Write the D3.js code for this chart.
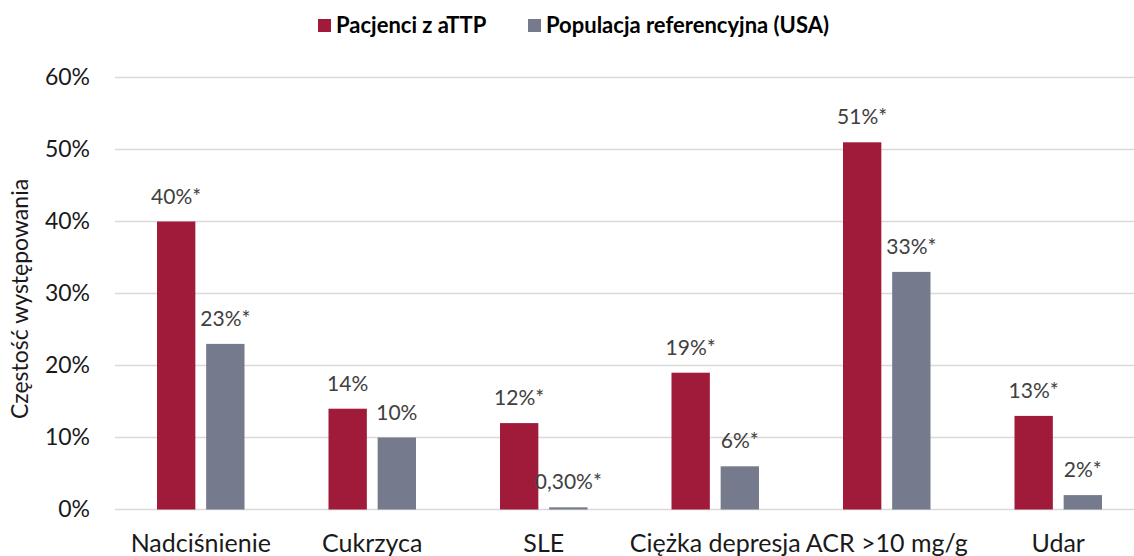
<!DOCTYPE html>
<html lang="pl">
<head>
  <meta charset="UTF-8">
  <title>Częstość występowania</title>
  <script src="https://d3js.org/d3.v7.min.js"></script>
  <style>
    body { margin: 0; background: #fff; }
    svg { display: block; font-family: Lato, "Open Sans", sans-serif; }
  </style>
</head>
<body>
  <div id="chart"></div>
  <script>
    // data
    const categories = ['Nadciśnienie', 'Cukrzyca', 'SLE', 'Ciężka depresja', 'ACR >10 mg/g', 'Udar']
    const seriesNames = ['Pacjenci z aTTP', 'Populacja referencyjna (USA)']
    const attp = [40, 14, 12, 19, 51, 13]
    const reference = [23, 10, 0.3, 6, 33, 2]
    const attpLabels = ['40%*', '14%', '12%*', '19%*', '51%*', '13%*']
    const referenceLabels = ['23%*', '10%', '0,30%*', '6%*', '33%*', '2%*']
    const yTicks = [0, 10, 20, 30, 40, 50, 60]

    const colors = ['#A01B39', '#757A8C']
    const width = 1134
    const height = 556
    const margin = { top: 77.5, left: 115, bottom: 509.5, right: 1144 }

    const svg = d3.select('#chart').append('svg')
      .attr('width', width)
      .attr('height', height)

    const x0 = d3.scaleBand()
      .domain(categories)
      .range([margin.left, margin.right])
      .padding(0)

    const x1 = d3.scaleBand()
      .domain([0, 1])
      .range([42, x0.bandwidth() - 42])
      .paddingInner(0.22)

    const y = d3.scaleLinear()
      .domain([0, 60])
      .range([margin.bottom, margin.top])

    // grid
    svg.append('g')
      .selectAll('line')
      .data(yTicks)
      .enter().append('line')
      .attr('x1', margin.left)
      .attr('x2', width)
      .attr('y1', d => y(d))
      .attr('y2', d => y(d))
      .attr('stroke', '#D9D9D9')
      .attr('stroke-width', 1.5)

    // y axis labels
    const yAxis = d3.axisLeft(y)
      .tickValues(yTicks)
      .tickFormat(d => d + '%')
      .tickSize(0)
      .tickPadding(25)
    const yg = svg.append('g')
      .attr('transform', `translate(${margin.left},0)`)
      .call(yAxis)
    yg.select('.domain').remove()
    yg.selectAll('text')
      .attr('font-family', 'Lato, sans-serif')
      .attr('font-size', 23)
      .attr('fill', '#1a1a1a')

    // x axis labels
    const xAxis = d3.axisBottom(x0).tickSize(0).tickPadding(0)
    const xg = svg.append('g')
      .attr('transform', `translate(0,${margin.bottom})`)
      .call(xAxis)
    xg.select('.domain').remove()
    xg.selectAll('text')
      .attr('dy', null)
      .attr('y', 42)
      .attr('font-family', 'Lato, sans-serif')
      .attr('font-size', 25)
      .attr('fill', '#1a1a1a')

    // bars
    const series = [attp, reference]
    const seriesLabels = [attpLabels, referenceLabels]

    series.forEach((values, s) => {
      svg.append('g')
        .selectAll('rect')
        .data(values)
        .enter().append('rect')
        .attr('x', (d, i) => x0(categories[i]) + x1(s))
        .attr('y', d => y(d))
        .attr('width', x1.bandwidth())
        .attr('height', d => y(0) - y(d))
        .attr('fill', colors[s])

      svg.append('g')
        .selectAll('text')
        .data(values)
        .enter().append('text')
        .attr('x', (d, i) => x0(categories[i]) + x1(s) + x1.bandwidth() / 2)
        .attr('y', d => y(d) - 18)
        .attr('text-anchor', 'middle')
        .attr('font-size', 21)
        .attr('fill', '#404040')
        .text((d, i) => seriesLabels[s][i])
    })

    // y title
    svg.append('text')
      .attr('transform', 'translate(28,299) rotate(-90)')
      .attr('text-anchor', 'middle')
      .attr('font-size', 23)
      .attr('fill', '#1a1a1a')
      .text('Częstość występowania')

    // legend
    const legendX = [318, 528]
    const legend = svg.append('g')
    seriesNames.forEach((name, s) => {
      legend.append('rect')
        .attr('x', legendX[s])
        .attr('y', 19)
        .attr('width', 13)
        .attr('height', 13)
        .attr('fill', colors[s])
      legend.append('text')
        .attr('x', legendX[s] + 18)
        .attr('y', 33)
        .attr('font-size', 22)
        .attr('font-weight', 'bold')
        .attr('fill', '#000')
        .text(name)
    })
  </script>
</body>
</html>
